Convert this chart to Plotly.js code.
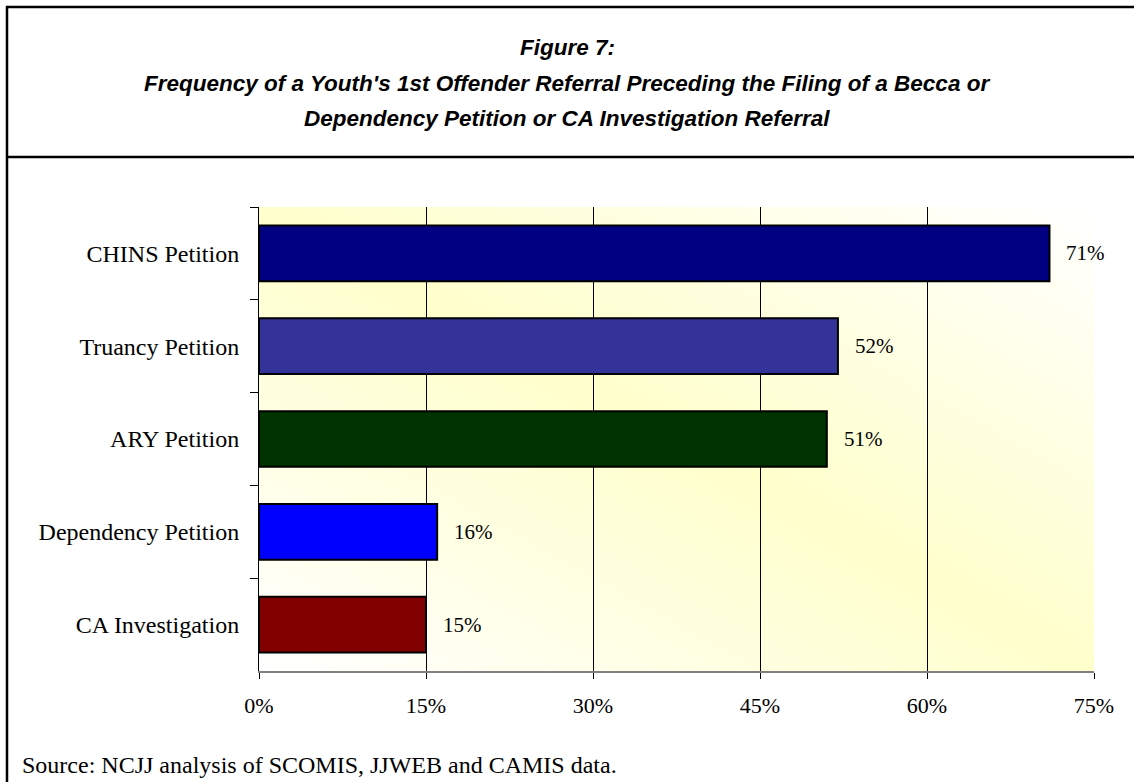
<!DOCTYPE html>
<html>
<head>
<meta charset="utf-8">
<script src="https://cdn.plot.ly/plotly-3.0.1.min.js"></script>
<style>
  html, body { margin: 0; padding: 0; background: #ffffff; }
  #chart { width: 1134px; height: 782px; }
</style>
</head>
<body>
<div id="chart"></div>
<script>
var categories = ['CHINS Petition', 'Truancy Petition', 'ARY Petition', 'Dependency Petition', 'CA Investigation'];
var values = [71, 52, 51, 16, 15];
var barColors = ['#000080', '#333399', '#003300', '#0000FF', '#800000'];
var xTicks = [0, 15, 30, 45, 60, 75];
var xTickLabels = ['0%', '15%', '30%', '45%', '60%', '75%'];

var titleLines = [
    'Figure 7:',
    "Frequency of a Youth's 1st Offender Referral Preceding the Filing of a Becca or",
    'Dependency Petition or CA Investigation Referral'
];
var sourceText = 'Source: NCJJ analysis of SCOMIS, JJWEB and CAMIS data.';

var serif = 'Liberation Serif, Times New Roman, serif';
var sans = 'Liberation Sans, Arial, sans-serif';

// yellow/white diagonal fill behind the plot
var gradSvg = '<svg xmlns="http://www.w3.org/2000/svg" width="100" height="100" viewBox="0 0 100 100" preserveAspectRatio="none">' +
    '<defs><linearGradient id="g" x1="1" y1="0" x2="0" y2="1">' +
    '<stop offset="0" stop-color="#ffffff"/>' +
    '<stop offset="0.5" stop-color="#ffffcc"/>' +
    '<stop offset="1" stop-color="#ffffff"/>' +
    '</linearGradient></defs><rect width="100" height="100" fill="url(#g)"/></svg>';
var gradUrl = 'data:image/svg+xml;base64,' + btoa(gradSvg);

var trace = {
    type: 'bar',
    orientation: 'h',
    x: values,
    y: categories,
    marker: {color: barColors, line: {color: '#000000', width: 2}},
    hoverinfo: 'none'
};

var annotations = [];
for (var i = 0; i < categories.length; i++) {
    annotations.push({
        x: values[i], y: categories[i], xref: 'x', yref: 'y',
        text: values[i] + '%', showarrow: false,
        xanchor: 'left', yanchor: 'middle', xshift: 15,
        font: {family: serif, size: 21, color: '#000000'}
    });
}

var titleY = [1.3427, 1.2651, 1.1897];
for (var j = 0; j < titleLines.length; j++) {
    annotations.push({
        x: 0.3689, y: titleY[j], xref: 'paper', yref: 'paper',
        text: titleLines[j], showarrow: false,
        xanchor: 'center', yanchor: 'middle',
        font: {family: sans, size: 22.5, color: '#000000', weight: 'bold', style: 'italic'}
    });
}

annotations.push({
    x: -0.286, y: -0.2026, xref: 'paper', yref: 'paper',
    text: sourceText, showarrow: false,
    xanchor: 'left', yanchor: 'middle',
    font: {family: serif, size: 24, color: '#000000'}
});

var layout = {
    width: 1134,
    height: 782,
    margin: {l: 259, r: 40, t: 207, b: 111, pad: 0},
    paper_bgcolor: '#ffffff',
    plot_bgcolor: 'rgba(0,0,0,0)',
    showlegend: false,
    bargap: 0.4,
    xaxis: {
        range: [0, 75],
        tickvals: xTicks,
        ticktext: xTickLabels,
        showgrid: true,
        gridcolor: '#000000',
        gridwidth: 1,
        zeroline: false,
        showline: true,
        linecolor: '#808080',
        linewidth: 2,
        ticks: 'outside',
        ticklen: 6,
        tickcolor: '#000000',
        ticklabelstandoff: 8,
        tickfont: {family: serif, size: 22, color: '#000000'},
        fixedrange: true
    },
    yaxis: {
        type: 'category',
        autorange: 'reversed',
        showgrid: false,
        zeroline: false,
        showline: true,
        linecolor: '#000000',
        linewidth: 1,
        ticks: 'outside',
        tickson: 'boundaries',
        ticklen: 8,
        tickcolor: '#000000',
        ticklabelstandoff: 14,
        tickfont: {family: serif, size: 24, color: '#000000'},
        fixedrange: true
    },
    images: [{
        source: gradUrl,
        xref: 'paper', yref: 'paper',
        x: 0, y: 1, sizex: 1, sizey: 1,
        xanchor: 'left', yanchor: 'top',
        sizing: 'stretch', layer: 'below'
    }],
    shapes: [
        {type: 'rect', xref: 'paper', yref: 'paper',
         x0: -0.3018, x1: 1.07, y0: -0.3, y1: 1.431,
         line: {color: '#000000', width: 2.5}},
        {type: 'line', xref: 'paper', yref: 'paper',
         x0: -0.3018, x1: 1.07, y0: 1.1078, y1: 1.1078,
         line: {color: '#000000', width: 2.5}}
    ],
    annotations: annotations
};

Plotly.newPlot('chart', [trace], layout, {displayModeBar: false, staticPlot: true});
</script>
</body>
</html>
